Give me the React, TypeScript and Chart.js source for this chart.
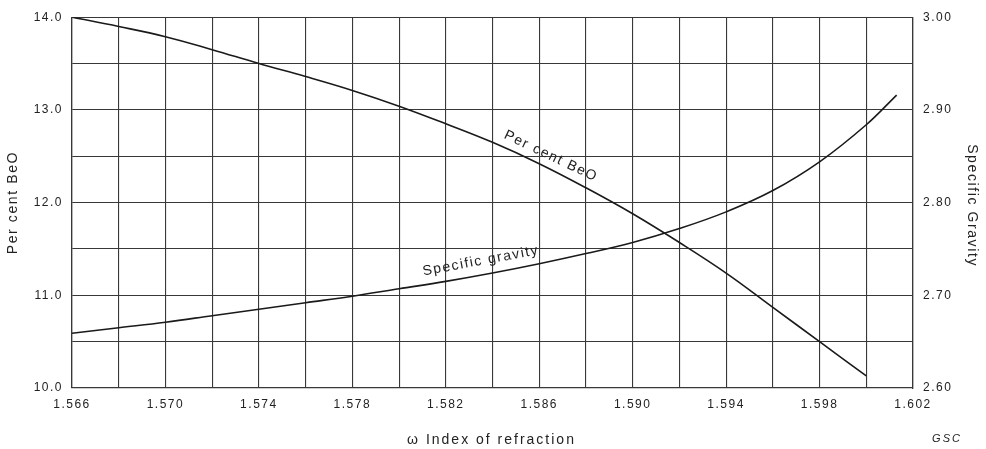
import React, { useEffect, useRef } from 'react';
import { Chart, registerables } from 'chart.js';

Chart.register(...registerables);

// ---- data ----
const refractionBeO = [1.566, 1.568, 1.570, 1.572, 1.574, 1.576, 1.578, 1.580, 1.582, 1.584, 1.586, 1.588, 1.590, 1.592, 1.594, 1.596, 1.598, 1.600];
const perCentBeO = [14.0, 13.90, 13.79, 13.65, 13.50, 13.36, 13.21, 13.04, 12.85, 12.65, 12.42, 12.16, 11.88, 11.57, 11.24, 10.87, 10.50, 10.13];
const refractionSG = [1.566, 1.568, 1.570, 1.572, 1.574, 1.576, 1.578, 1.580, 1.582, 1.584, 1.586, 1.588, 1.590, 1.592, 1.594, 1.596, 1.598, 1.600, 1.6013];
const specificGravity = [2.659, 2.665, 2.671, 2.678, 2.685, 2.692, 2.699, 2.707, 2.715, 2.724, 2.734, 2.745, 2.757, 2.772, 2.790, 2.813, 2.844, 2.884, 2.916];

const xMin = 1.566;
const xMax = 1.602;
const xStep = 0.002;
const leftMin = 10;
const leftMax = 14;
const leftStep = 0.5;
const rightMin = 2.6;
const rightMax = 3.0;
const rightStep = 0.1;

const xTitle = 'ω Index of refraction';
const leftTitle = 'Per cent BeO';
const rightTitle = 'Specific Gravity';
const beoLabel = 'Per cent BeO';
const sgLabel = 'Specific gravity';
const creditLabel = 'GSC';

const FONT = "'Liberation Sans', Arial, Helvetica, sans-serif";
const GRID = '#383838';
const TEXT = '#222222';
const LINE = '#1a1a1a';

export default function App() {
  const canvasRef = useRef<HTMLCanvasElement | null>(null);

  useEffect(() => {
    document.body.style.margin = '0';
    const canvas = canvasRef.current;
    if (!canvas) return;

    const textPlugin = {
      id: 'textPlugin',
      beforeDraw(chart: any) {
        const ctx = chart.ctx;
        ctx.save();
        ctx.fillStyle = '#ffffff';
        ctx.fillRect(0, 0, chart.width, chart.height);
        ctx.restore();
        (ctx as any).letterSpacing = '1.5px';
      },
      afterDraw(chart: any) {
        const ctx = chart.ctx;
        const area = chart.chartArea;
        const xs = chart.scales.x;
        const yl = chart.scales.y;
        const yr = chart.scales.y1;
        const midY = (area.top + area.bottom) / 2;
        ctx.save();
        (ctx as any).letterSpacing = '1.6px';
        ctx.fillStyle = TEXT;
        ctx.font = `14px ${FONT}`;
        ctx.textAlign = 'center';
        ctx.textBaseline = 'middle';

        // left title
        ctx.save();
        ctx.translate(13, midY);
        ctx.rotate(-Math.PI / 2);
        ctx.fillText(leftTitle, 0, 0);
        ctx.restore();

        // right title
        ctx.save();
        ctx.translate(972, midY + 3);
        ctx.rotate(Math.PI / 2);
        ctx.fillText(rightTitle, 0, 0);
        ctx.restore();

        // x title
        (ctx as any).letterSpacing = '2px';
        ctx.fillText(xTitle, (area.left + area.right) / 2 - 1, 440);

        // curve labels
        (ctx as any).letterSpacing = '1.5px';
        ctx.save();
        ctx.translate(xs.getPixelForValue(1.5865), yl.getPixelForValue(12.50));
        ctx.rotate((25.5 * Math.PI) / 180);
        ctx.fillText(beoLabel, 0, 0);
        ctx.restore();

        ctx.save();
        ctx.translate(xs.getPixelForValue(1.5835), yr.getPixelForValue(2.737));
        ctx.rotate((-10.5 * Math.PI) / 180);
        ctx.fillText(sgLabel, 0, 0);
        ctx.restore();

        // credit
        (ctx as any).letterSpacing = '2px';
        ctx.font = `italic 11px ${FONT}`;
        ctx.fillText(creditLabel, 947, 439);
        ctx.restore();
      },
    };

    const chart = new Chart(canvas, {
      type: 'line',
      data: {
        datasets: [
          {
            label: beoLabel,
            data: refractionBeO.map((x, i) => ({ x, y: perCentBeO[i] })),
            yAxisID: 'y',
            borderColor: LINE,
            borderWidth: 1.6,
            pointRadius: 0,
            tension: 0.4,
            fill: false,
          },
          {
            label: sgLabel,
            data: refractionSG.map((x, i) => ({ x, y: specificGravity[i] })),
            yAxisID: 'y1',
            borderColor: LINE,
            borderWidth: 1.6,
            pointRadius: 0,
            tension: 0.4,
            fill: false,
          },
        ],
      },
      options: {
        responsive: false,
        animation: false,
        layout: { padding: { top: 14, left: 0, right: 0, bottom: 0 } },
        plugins: {
          legend: { display: false },
          tooltip: { enabled: false },
          title: { display: false },
        },
        scales: {
          x: {
            type: 'linear',
            min: xMin,
            max: xMax,
            afterFit(scale: any) {
              scale.height = 61;
            },
            border: { color: GRID, width: 1.3 },
            grid: { color: GRID, lineWidth: 1.1, drawTicks: false },
            ticks: {
              stepSize: xStep,
              autoSkip: false,
              maxRotation: 0,
              padding: 9,
              color: TEXT,
              font: { family: FONT, size: 12 },
              callback: (v: any) => {
                const k = Math.round((Number(v) - xMin) / xStep);
                return k % 2 === 0 ? (xMin + k * xStep).toFixed(3) : '';
              },
            },
          },
          y: {
            type: 'linear',
            position: 'left',
            min: leftMin,
            max: leftMax,
            afterFit(scale: any) {
              scale.width = 72;
            },
            border: { color: GRID, width: 1.3 },
            grid: { color: GRID, lineWidth: 1.1, drawTicks: false },
            ticks: {
              stepSize: leftStep,
              padding: 9,
              color: TEXT,
              font: { family: FONT, size: 12 },
              callback: (v: any) => {
                const n = Number(v);
                return Math.abs(n - Math.round(n)) < 1e-6 ? n.toFixed(1) : '';
              },
            },
          },
          y1: {
            type: 'linear',
            position: 'right',
            min: rightMin,
            max: rightMax,
            afterFit(scale: any) {
              scale.width = 73;
            },
            border: { color: GRID, width: 1.3 },
            grid: { drawOnChartArea: false, drawTicks: false },
            ticks: {
              stepSize: rightStep,
              padding: 10,
              color: TEXT,
              font: { family: FONT, size: 12 },
              callback: (v: any) => Number(v).toFixed(2),
            },
          },
        },
      },
      plugins: [textPlugin],
    } as any);

    return () => chart.destroy();
  }, []);

  return (
    <div style={{ width: 986, height: 449 }}>
      <canvas ref={canvasRef} width={986} height={449} />
    </div>
  );
}
